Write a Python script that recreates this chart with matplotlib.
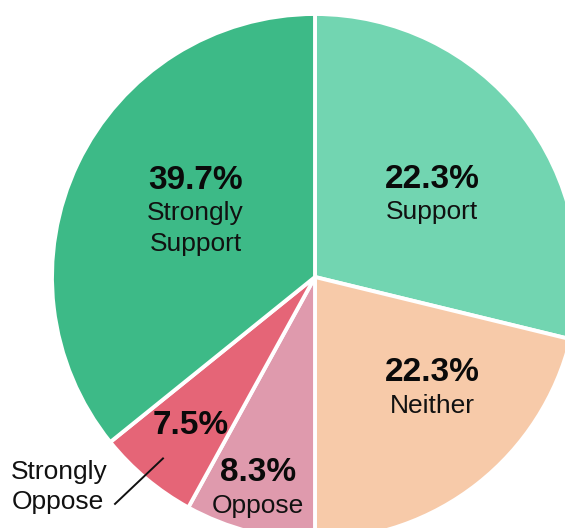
import numpy as np
import matplotlib
matplotlib.use("Agg")
import matplotlib.pyplot as plt

plt.rcParams['font.family'] = ['Liberation Sans', 'DejaVu Sans']

# slices, clockwise from 12 o'clock
categories = ["Support", "Neither", "Oppose", "Strongly\nOppose", "Strongly\nSupport"]
pct_labels = ["22.3%", "22.3%", "8.3%", "7.5%", "39.7%"]
# wedge sizes as drawn in the original picture
shares = [28.8, 21.2, 8.0, 6.2, 35.8]
colors = ["#72d5b1", "#f7caa9", "#df9aad", "#e56577", "#3dba87"]

# label placement (fraction of radius, angle nudge in degrees)
label_r = [0.58, 0.575, 0.775, 0.737, 0.585]
label_nudge = [1.6, 12.5, -1.8, 0, -13.5]
outside = [False, False, False, True, False]

R = 263
fig = plt.figure(figsize=(5.65, 5.28), dpi=100)
ax = fig.add_axes([0, 0, 1, 1])

wedges, _ = ax.pie(shares, colors=colors, startangle=90, counterclock=False,
                   radius=R, wedgeprops=dict(edgecolor="white", linewidth=2.8))

for w, cat, pct, rf, nudge, out in zip(wedges, categories, pct_labels,
                                       label_r, label_nudge, outside):
    mid = np.deg2rad((w.theta1 + w.theta2) / 2 + nudge)
    x, y = rf * R * np.cos(mid), rf * R * np.sin(mid)
    ax.text(x, y, pct, ha="center", va="center", fontsize=24,
            fontweight="bold", color="#0a0a0a")
    if out:
        # leader line to the outside label
        x0, y0 = 0.9 * R * np.cos(mid), 0.9 * R * np.sin(mid)
        x1, y1 = 1.15 * R * np.cos(mid - 0.025), 1.15 * R * np.sin(mid - 0.025)
        ax.plot([x0, x1], [y0, y1], color="#111111", lw=1.4)
        ax.text(x1 - 7, y1 + 17, cat, ha="right", va="center", fontsize=19,
                color="#111111", linespacing=1.34, multialignment="left")
    else:
        ax.text(x, y - 21, cat, ha="center", va="top", fontsize=19,
                color="#111111", linespacing=1.34)

ax.set_xlim(-315, 250)
ax.set_ylim(-251, 277)
ax.set_aspect("equal")
ax.axis("off")

fig.savefig("out.png", dpi=100)
